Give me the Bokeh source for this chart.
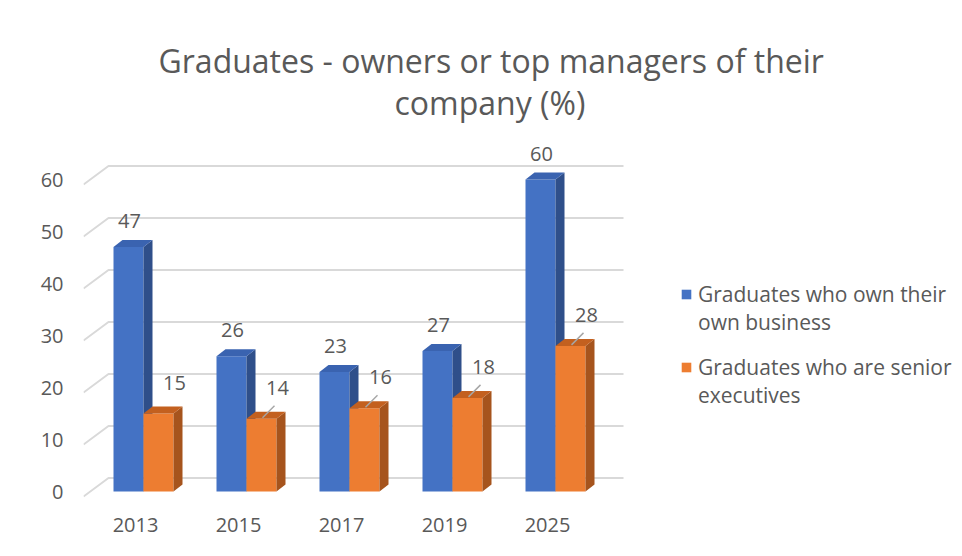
from bokeh.plotting import figure
from bokeh.models import Range1d, FixedTicker, Title, Legend, LegendItem
from bokeh.embed import file_html
from bokeh.resources import INLINE
from bokeh.core.properties import value

# ---------------- data ----------------
years = ["2013", "2015", "2017", "2019", "2025"]
owners = [47, 26, 23, 27, 60]
executives = [15, 14, 16, 18, 28]
y_ticks = [0, 10, 20, 30, 40, 50, 60]
legend_lines = [["Graduates who own their", "own business"],
                ["Graduates who are senior", "executives"]]
title_line1 = "Graduates - owners or top managers of their"
title_line2 = "company (%)"

# ---------------- geometry (pixel-derived styling constants) ----------------
PX_X = 103.0          # pixels per category unit
PX_Y = 5.2            # pixels per value unit
FONT = "Open Sans"
TXT = "#595959"
GRID = "#d9d9d9"

def ux(px):
    return px / PX_X

def uy(px):
    return px / PX_Y

BAR_W = ux(30)
SHIFT = ux(8)
DX = ux(9)
DY = uy(7)
BACK_DY = uy(13.5)
FRONT_DY = uy(-5)

FRAME_L, FRAME_R, FRAME_T = 83, 958, 140

p = figure(width=958, height=553, output_backend="svg", toolbar_location=None,
           min_border_left=FRAME_L, min_border_right=958 - FRAME_R,
           min_border_top=FRAME_T, min_border_bottom=55,
           x_range=Range1d(ux(FRAME_L - 135), ux(FRAME_R - 135)),
           y_range=Range1d(uy(-7), uy(491 - FRAME_T)))
p.outline_line_color = None
p.xgrid.visible = False
p.ygrid.visible = False
p.background_fill_color = "white"
p.border_fill_color = "white"

# ---------- titles ----------
t2 = Title(text=title_line2, align="left", text_font=FONT, text_font_size="32px",
           text_font_style="normal", text_color=TXT, offset=311, standoff=34)
t1 = Title(text=title_line1, align="left", text_font=FONT, text_font_size="32px",
           text_font_style="normal", text_color=TXT, offset=75, standoff=-41)
p.title = None
p.add_layout(t2, "above")
p.add_layout(t1, "above")

# ---------- axes ----------
p.yaxis.ticker = FixedTicker(ticks=y_ticks)
p.yaxis.axis_line_color = None
p.yaxis.major_tick_line_color = None
p.yaxis.minor_tick_line_color = None
p.yaxis.major_label_standoff = 14
p.yaxis.major_label_text_font = FONT
p.yaxis.major_label_text_font_size = "20px"
p.yaxis.major_label_text_color = TXT

n = len(years)
p.xaxis.ticker = FixedTicker(ticks=list(range(n)))
p.xaxis.major_label_overrides = {i: y for i, y in enumerate(years)}
p.xaxis.axis_line_color = None
p.xaxis.major_tick_line_color = None
p.xaxis.minor_tick_line_color = None
p.xaxis.major_label_standoff = 13
p.xaxis.major_label_text_font = FONT
p.xaxis.major_label_text_font_size = "20px"
p.xaxis.major_label_text_color = TXT

# ---------- 3D gridlines ----------
x_front = ux(83 - 135)
x_back = ux(108 - 135)
x_right = ux(623 - 135)
gx, gy = [], []
for t in y_ticks:
    gx.append([x_front, x_back, x_right])
    gy.append([t + FRONT_DY, t + BACK_DY, t + BACK_DY])
p.multi_line(gx, gy, line_color=GRID, line_width=2)

# ---------- 3D bars ----------
def bar3d(centers, vals, front, side, top):
    lefts = [c - BAR_W / 2 for c in centers]
    rights = [c + BAR_W / 2 for c in centers]
    r = p.vbar(x=centers, top=vals, bottom=0, width=BAR_W, fill_color=front,
               line_color=None)
    sx = [[rr, rr + DX, rr + DX, rr] for rr in rights]
    sy = [[0, DY, v + DY, v] for v in vals]
    p.patches(sx, sy, fill_color=side, line_color=None)
    tx = [[l, l + DX, rr + DX, rr] for l, rr in zip(lefts, rights)]
    ty = [[v, v + DY, v + DY, v] for v in vals]
    p.patches(tx, ty, fill_color=top, line_color=None)
    return r

blue_c = [i + SHIFT - BAR_W / 2 for i in range(n)]
orange_c = [i + SHIFT + BAR_W / 2 for i in range(n)]
r_blue = bar3d(blue_c, owners, "#4472C4", "#2F4F8A", "#3A63B0")
r_orange = bar3d(orange_c, executives, "#ED7D31", "#A6541D", "#C3601F")

# ---------- data labels ----------
p.text(x=blue_c, y=owners, text=[str(v) for v in owners], text_align="center",
       text_baseline="middle", y_offset=-26, x_offset=1, text_font=value(FONT),
       text_font_size="20px", text_color=TXT)
p.text(x=orange_c, y=executives, text=[str(v) for v in executives],
       text_align="center", text_baseline="middle", y_offset=-31, x_offset=16,
       text_font=value(FONT), text_font_size="20px", text_color=TXT)

lead = [False, True, True, True, True]
lx, ly = [], []
for c, v, f in zip(orange_c, executives, lead):
    if f:
        lx.append([c + ux(1), c + ux(13)])
        ly.append([v + uy(1), v + uy(13)])
p.multi_line(lx, ly, line_color="#a6a6a6", line_width=1.5)

# ---------- legend (one legend per series, glyph on the first line) ----------
dummy = p.vbar(x=[], top=[], width=0.1, fill_alpha=0, line_alpha=0)
legend_locs = [(597, 162), (597, 89)]
for rend, lines, loc in zip([r_blue, r_orange], legend_lines, legend_locs):
    lg = Legend(items=[LegendItem(label=lines[0], renderers=[rend]),
                       LegendItem(label=lines[1], renderers=[dummy])],
                location=loc, orientation="vertical",
                label_text_font=FONT, label_text_font_size="21px",
                label_text_color=TXT, label_standoff=6,
                glyph_width=12, glyph_height=12, spacing=0, padding=0,
                margin=0, border_line_color=None, background_fill_alpha=0,
                label_height=27, label_text_line_height=1.0)
    p.add_layout(lg)

open("out.html", "w").write(file_html(p, INLINE))
